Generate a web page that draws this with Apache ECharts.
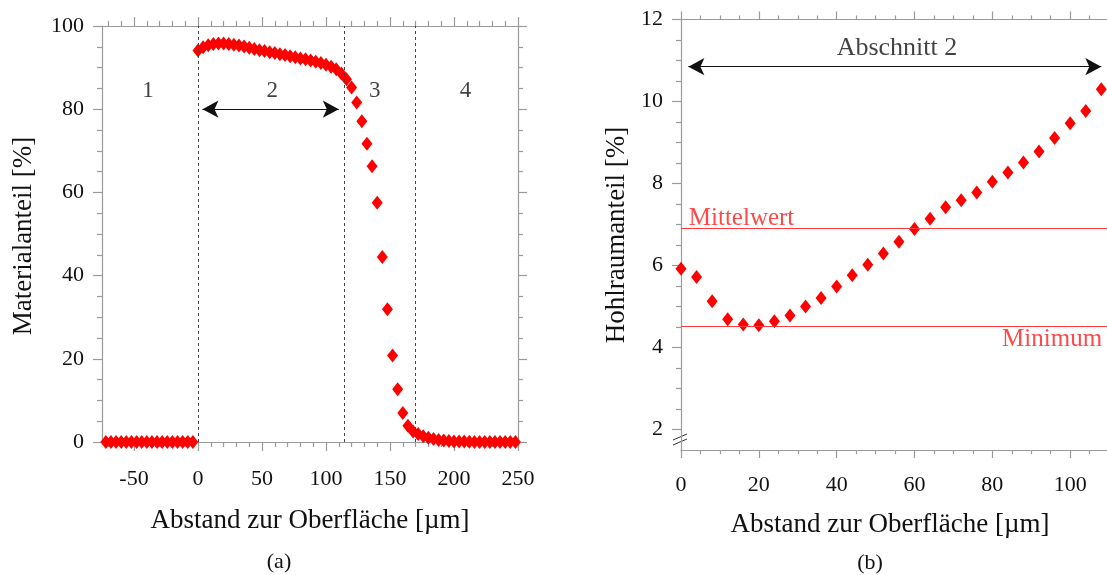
<!DOCTYPE html>
<html><head><meta charset="utf-8">
<script src="https://cdn.jsdelivr.net/npm/echarts@6/dist/echarts.min.js"></script>
<style>html,body{margin:0;padding:0;background:#fff;overflow:hidden}#c{width:1107px;height:575px}</style>
</head><body><div id="c"></div>
<script>
// ---------- Panel (a): Materialanteil ----------
const leftX = [-72,-68,-64,-60,-56,-52,-48,-44,-40,-36,-32,-28,-24,-20,-16,-12,-8,-4,
  0,4,8,12,16,20,24,28,32,36,40,44,48,52,56,60,64,68,72,76,80,84,88,92,96,100,104,108,112,116,
  120,124,128,132,136,140,144,148,152,156,160,164,168,
  172,176,180,184,188,192,196,200,204,208,212,216,220,224,228,232,236,240,244,248];
const leftY = [0,0,0,0,0,0,0,0,0,0,0,0,0,0,0,0,0,0,
  94.1,94.9,95.4,95.7,95.8,95.8,95.7,95.5,95.3,95.1,94.8,94.5,94.2,94.0,93.7,93.5,93.2,93.0,92.7,92.5,92.2,92.0,91.7,91.4,91.1,90.7,90.2,89.6,88.6,87.2,
  85.2,81.6,77.1,71.7,66.3,57.5,44.5,31.9,20.8,12.7,7.0,3.9,2.5,
  1.9,1.4,1.0,0.7,0.5,0.35,0.25,0.15,0.1,0.1,0.05,0,0,0,0,0,0,0,0,0];
const leftXMajor = [-50,0,50,100,150,200,250];
const leftXMinor = [-70,-60,-40,-30,-20,-10,10,20,30,40,60,70,80,90,110,120,130,140,160,170,180,190,210,220,230,240];
const sectionBounds = [0,114,170];
const sectionLabelX = [-39,58,138,209];
const sectionLabelY = 84.5;
const sectionLabels = ['1','2','3','4'];
const leftArrow = [[3.5,80],[110,80]];

// ---------- Panel (b): Hohlraumanteil ----------
const rightX = [0,4,8,12,16,20,24,28,32,36,40,44,48,52,56,60,64,68,72,76,80,84,88,92,96,100,104,108];
const rightY = [5.92,5.72,5.13,4.69,4.56,4.54,4.64,4.78,5.00,5.21,5.49,5.76,6.02,6.29,6.58,6.89,7.14,7.42,7.59,7.78,8.04,8.27,8.51,8.78,9.11,9.47,9.77,10.30];
const rightYMajor = [2,4,6,8,10,12];
const rightYMinor = [2.5,3,3.5,4.5,5,5.5,6.5,7,7.5,8.5,9,9.5,10.5,11,11.5];
const mittelwert = 6.92;
const minimum = 4.52;
const rightArrow = [[1.9,10.85],[108,10.85]];
const abschnittPos = [55.5,11.3];

const FONT = 'Liberation Serif';
const GRAY = '#9a9a9a';
const lineS = {color:GRAY, width:1.2};
const tickLabel = {fontFamily:FONT, fontSize:22, color:'#111'};

function zip(xs, ys){ return xs.map((x,i)=>[x, ys[i]]); }

const chart = echarts.init(document.getElementById('c'), null, {renderer:'canvas'});

const option = {
  animation:false,
  backgroundColor:'#fff',
  grid:[
    {left:102, top:26, width:416, height:416, outerBoundsMode:'none', containLabel:false},
    {left:681, top:19.5, width:467, height:430.5, outerBoundsMode:'none', containLabel:false}
  ],
  xAxis:[
    {gridIndex:0, type:'value', min:-75, max:250, position:'bottom',
      axisLine:{show:true, onZero:false, lineStyle:lineS},
      axisTick:{show:true, length:9, customValues:leftXMajor, lineStyle:lineS},
      axisLabel:Object.assign({customValues:leftXMajor, margin:26}, tickLabel),
      splitLine:{show:false}},
    {gridIndex:0, type:'value', min:-75, max:250, position:'bottom',
      axisLine:{show:false, onZero:false},
      axisTick:{show:true, length:5, customValues:leftXMinor, lineStyle:lineS},
      axisLabel:{show:false}, splitLine:{show:false}},
    {gridIndex:0, type:'value', min:-75, max:250, position:'top',
      axisLine:{show:true, onZero:false, lineStyle:lineS},
      axisTick:{show:true, length:9, customValues:leftXMajor, lineStyle:lineS},
      axisLabel:{show:false}, splitLine:{show:false}},
    {gridIndex:0, type:'value', min:-75, max:250, position:'top',
      axisLine:{show:false, onZero:false},
      axisTick:{show:true, length:5, customValues:leftXMinor, lineStyle:lineS},
      axisLabel:{show:false}, splitLine:{show:false}},
    {gridIndex:1, type:'value', min:0, max:120, interval:20, position:'bottom',
      axisLine:{show:true, onZero:false, lineStyle:lineS},
      axisTick:{show:true, length:8, lineStyle:lineS},
      minorTick:{show:true, splitNumber:4, length:4, lineStyle:lineS},
      axisLabel:Object.assign({margin:24}, tickLabel),
      splitLine:{show:false}},
    {gridIndex:1, type:'value', min:0, max:120, interval:20, position:'top',
      axisLine:{show:true, onZero:false, lineStyle:lineS},
      axisTick:{show:true, length:8, lineStyle:lineS},
      minorTick:{show:true, splitNumber:4, length:4, lineStyle:lineS},
      axisLabel:{show:false}, splitLine:{show:false}}
  ],
  yAxis:[
    {gridIndex:0, type:'value', min:0, max:100, interval:20, position:'left',
      axisLine:{show:true, onZero:false, lineStyle:lineS},
      axisTick:{show:true, length:9, lineStyle:lineS},
      minorTick:{show:true, splitNumber:4, length:5, lineStyle:lineS},
      axisLabel:Object.assign({margin:18}, tickLabel),
      splitLine:{show:false}},
    {gridIndex:0, type:'value', min:0, max:100, interval:20, position:'right',
      axisLine:{show:true, onZero:false, lineStyle:lineS},
      axisTick:{show:true, length:9, lineStyle:lineS},
      minorTick:{show:true, splitNumber:4, length:5, lineStyle:lineS},
      axisLabel:{show:false}, splitLine:{show:false}},
    {gridIndex:1, type:'value', min:1.5, max:12, position:'left',
      axisLine:{show:true, onZero:false, lineStyle:lineS},
      axisTick:{show:true, length:9, customValues:rightYMajor, lineStyle:lineS},
      axisLabel:Object.assign({customValues:rightYMajor, margin:18}, tickLabel),
      splitLine:{show:false}},
    {gridIndex:1, type:'value', min:1.5, max:12, position:'left',
      axisLine:{show:false, onZero:false},
      axisTick:{show:true, length:5, customValues:rightYMinor, lineStyle:lineS},
      axisLabel:{show:false}, splitLine:{show:false}}
  ],
  series:[
    {type:'scatter', xAxisIndex:0, yAxisIndex:0, z:3,
      data:zip(leftX, leftY), symbol:'diamond', symbolSize:[11,14],
      itemStyle:{color:'#ff0000', opacity:1}, silent:true,
      markLine:{silent:true, symbol:'none', label:{show:false},
        lineStyle:{type:[3,3], color:'#444', width:1},
        data:sectionBounds.map(v=>({xAxis:v}))}},
    {type:'scatter', xAxisIndex:0, yAxisIndex:0, symbolSize:0, silent:true,
      data:sectionLabelX.map((x,i)=>({value:[x, sectionLabelY], name:sectionLabels[i]})),
      label:{show:true, position:'inside', formatter:p=>p.name, fontFamily:FONT, fontSize:23, color:'#111'}},
    {type:'scatter', xAxisIndex:0, yAxisIndex:0, data:[], silent:true,
      markLine:{silent:true, symbol:['arrow','arrow'], symbolSize:[13,16], label:{show:false},
        lineStyle:{type:'solid', color:'#111', width:1.2},
        data:[[{coord:leftArrow[0]},{coord:leftArrow[1]}]]}},
    {type:'scatter', xAxisIndex:4, yAxisIndex:2, z:3,
      data:zip(rightX, rightY), symbol:'diamond', symbolSize:[11,14],
      itemStyle:{color:'#ff0000', opacity:1}, silent:true,
      markLine:{silent:true, symbol:'none', label:{show:false},
        lineStyle:{type:'solid', color:'#ff3a3a', width:1},
        data:[{yAxis:mittelwert},{yAxis:minimum}]}},
    {type:'scatter', xAxisIndex:4, yAxisIndex:2, symbolSize:0, silent:true,
      data:[
        {value:[2.0, mittelwert], name:'Mittelwert', label:{position:[0,0], align:'left', verticalAlign:'bottom', offset:[0,3]}},
        {value:[108.2, minimum], name:'Minimum', label:{position:[0,0], align:'right', verticalAlign:'top', offset:[0,1]}}
      ],
      label:{show:true, formatter:p=>p.name, fontFamily:FONT, fontSize:25, color:'#ff1a1a'}},
    {type:'scatter', xAxisIndex:4, yAxisIndex:2, symbolSize:0, silent:true,
      data:[{value:abschnittPos, name:'Abschnitt 2'}],
      label:{show:true, position:'inside', formatter:p=>p.name, fontFamily:FONT, fontSize:26, color:'#111'}},
    {type:'scatter', xAxisIndex:4, yAxisIndex:2, data:[], silent:true,
      markLine:{silent:true, symbol:['arrow','arrow'], symbolSize:[13,16], label:{show:false},
        lineStyle:{type:'solid', color:'#111', width:1.2},
        data:[[{coord:rightArrow[0]},{coord:rightArrow[1]}]]}}
  ]
};
chart.setOption(option);

// Titles and axis-break mark
const corner = chart.convertToPixel({xAxisIndex:4, yAxisIndex:2}, [0, 1.5]);
const titleStyle = {fontFamily:FONT, fontSize:27, fill:'#111', align:'center', verticalAlign:'middle'};
function txt(x, y, text, rot, size){
  return {type:'text', x:x, y:y, rotation:rot||0,
    style:Object.assign({}, titleStyle, {text:text}, size?{fontSize:size}:{})};
}
chart.setOption({graphic:[
  txt(310, 521, 'Abstand zur Oberfläche [µm]'),
  txt(890, 525, 'Abstand zur Oberfläche [µm]'),
  txt(24, 236, 'Materialanteil [%]', Math.PI/2),
  txt(617, 235, 'Hohlraumanteil [%]', Math.PI/2),
  txt(279, 562, '(a)', 0, 22),
  txt(870, 563, '(b)', 0, 22),
  {type:'line', shape:{x1:corner[0]-8, y1:corner[1]-10, x2:corner[0]+6, y2:corner[1]-16}, style:{stroke:'#333', lineWidth:1}},
  {type:'line', shape:{x1:corner[0]-8, y1:corner[1]-5, x2:corner[0]+6, y2:corner[1]-11}, style:{stroke:'#333', lineWidth:1}}
]});
</script>
</body></html>
